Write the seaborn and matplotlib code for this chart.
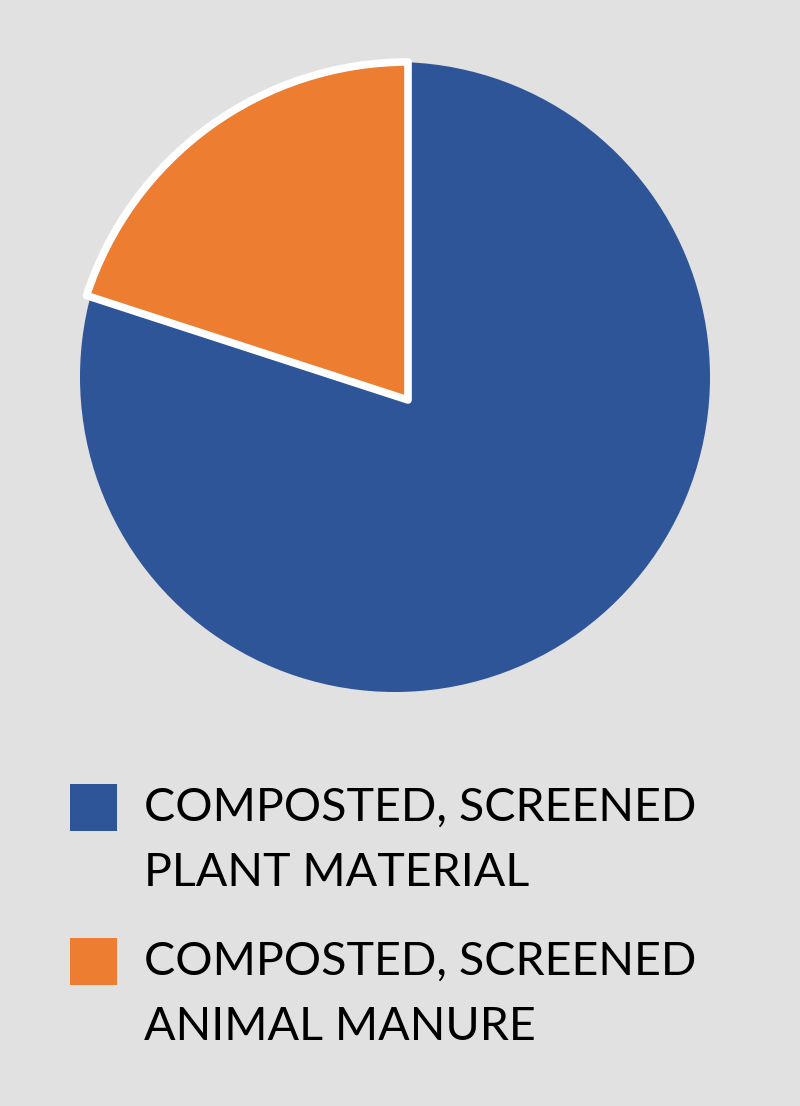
import numpy as np

import matplotlib
matplotlib.use("Agg")

import matplotlib.pyplot as plt
from matplotlib.patches import Rectangle
import seaborn as sns


# Shares of the mix (percent).
labels = ["COMPOSTED, SCREENED\nPLANT MATERIAL", "COMPOSTED, SCREENED\nANIMAL MANURE"]
shares = [80, 20]
colors = ["#2e5597", "#ed7d31"]
BG = "#e1e1e1"
H = 1106  # figure height in px, axes use pixel units with y up


def main() -> None:
    sns.set_theme(style="white", rc={"figure.facecolor": BG, "axes.facecolor": BG})
    plt.rcParams["font.family"] = ["Lato", "DejaVu Sans"]

    fig = plt.figure(figsize=(8, 11.06), dpi=100)
    ax = fig.add_axes([0, 0, 1, 1])

    # base disc: plant material, starting after the manure wedge
    blue, _ = ax.pie(
        [shares[1], shares[0]], startangle=90, counterclock=True,
        colors=[BG, colors[0]], center=(395, H - 377), radius=315,
        wedgeprops=dict(linewidth=0),
    )
    blue[0].set_visible(False)

    # manure wedge drawn on top, a bit larger, with a white outline
    orange, _ = ax.pie(
        [shares[1], shares[0]], startangle=90, counterclock=True,
        colors=[colors[1], BG], center=(408, H - 400), radius=338,
        wedgeprops=dict(linewidth=5.5, edgecolor="white", joinstyle="round"),
    )
    orange[1].set_visible(False)

    ax.set_xlim(0, 800)
    ax.set_ylim(0, H)
    ax.set_aspect("equal")
    ax.axis("off")

    # legend: square swatch aligned with the first text line
    for i, (lab, col) in enumerate(zip(labels, colors)):
        top = 784 + i * 154
        ax.add_patch(Rectangle((70, H - top - 47), 47, 47, facecolor=col,
                               edgecolor="none"))
        ax.text(144, H - top - 3, lab, fontsize=33.6, fontweight="normal",
                color="black", va="top", ha="left", linespacing=1.68)

    fig.savefig("out.png", dpi=100, facecolor=BG)
    plt.close(fig)


if __name__ == "__main__":
    main()
